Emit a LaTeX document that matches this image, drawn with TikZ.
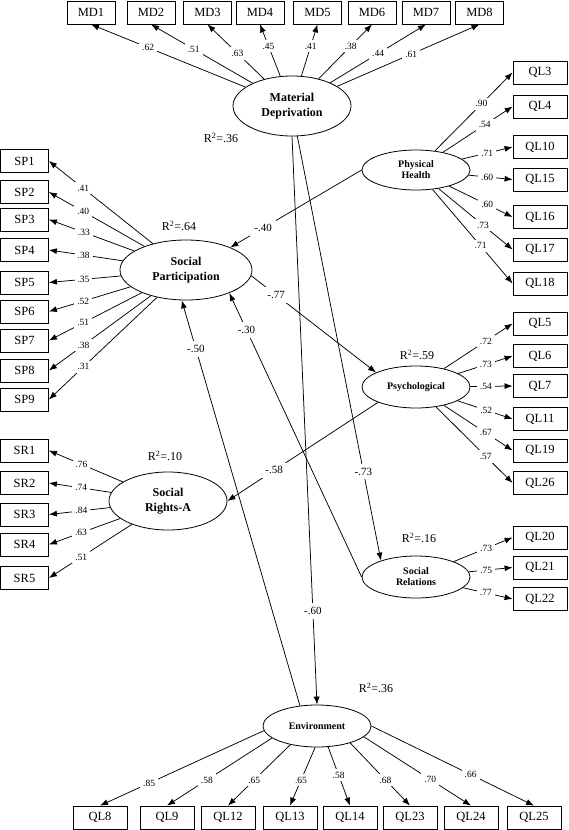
\documentclass[tikz,border=0pt]{standalone}
\usepackage{fontspec}
\setmainfont{Liberation Serif}
\usetikzlibrary{shapes.geometric,arrows.meta}
\begin{document}
\begin{tikzpicture}[x=1pt,y=-1pt,every node/.style={align=center},
	ind/.style={draw,line width=.8pt,minimum width=48pt,minimum height=23pt,inner sep=0pt,font=\fontsize{12.5}{14}\selectfont},
	indw/.style={ind,minimum width=54pt},
	latent/.style={draw,ellipse,line width=.8pt,inner sep=0pt,font=\fontsize{12}{14.5}\selectfont\bfseries},
	latsmall/.style={latent,minimum width=108pt,minimum height=42pt,font=\fontsize{10}{11}\selectfont\bfseries},
	ld/.style={fill=white,inner sep=3pt,font=\fontsize{9.5}{11}\selectfont},
	coef/.style={fill=white,inner sep=4pt,font=\fontsize{11}{13}\selectfont},
	rsq/.style={font=\fontsize{12}{14}\selectfont},
	load/.style={-{Latex[length=8pt,width=6pt]},line width=.75pt}]
		\useasboundingbox (0,0) rectangle (568,830);
		% latent variables
		\node[latent,minimum width=118pt,minimum height=60pt] (md) at (292,106) {Material\\Deprivation};
		\node[latent,minimum width=132pt,minimum height=60pt] (sp) at (186,270) {Social\\Participation};
		\node[latent,minimum width=118pt,minimum height=58pt] (sra) at (168,501) {Social\\Rights-A};
		\node[latsmall,minimum height=40pt] (ph) at (416,170) {Physical\\Health};
		\node[latsmall] (psy) at (416,387) {Psychological};
		\node[latsmall] (soc) at (416,577) {Social\\Relations};
		\node[latsmall] (env) at (317,726) {Environment};
		% explained variance
		\node[rsq] (r2md) at (221,138) {R\textsuperscript{2}=.36};
		\node[rsq] (r2sp) at (179,226) {R\textsuperscript{2}=.64};
		\node[rsq] (r2sra) at (165,456) {R\textsuperscript{2}=.10};
		\node[rsq] (r2psy) at (417,355) {R\textsuperscript{2}=.59};
		\node[rsq] (r2soc) at (419,538) {R\textsuperscript{2}=.16};
		\node[rsq] (r2env) at (376,688) {R\textsuperscript{2}=.36};
		% indicators, top row
		\node[ind] (md1) at (91,12.5) {MD1};
		\node[ind] (md2) at (151,12.5) {MD2};
		\node[ind] (md3) at (207.5,12.5) {MD3};
		\node[ind] (md4) at (260,12.5) {MD4};
		\node[ind] (md5) at (317.5,12.5) {MD5};
		\node[ind] (md6) at (372,12.5) {MD6};
		\node[ind] (md7) at (426,12.5) {MD7};
		\node[ind] (md8) at (479.5,12.5) {MD8};
		% indicators, left column
		\node[ind] (sp1) at (24.5,161) {SP1};
		\node[ind] (sp2) at (24.5,192) {SP2};
		\node[ind] (sp3) at (24.5,219.5) {SP3};
		\node[ind] (sp4) at (24.5,250) {SP4};
		\node[ind] (sp5) at (24.5,282.5) {SP5};
		\node[ind] (sp6) at (24.5,311.5) {SP6};
		\node[ind] (sp7) at (24.5,340.5) {SP7};
		\node[ind] (sp8) at (24.5,370.5) {SP8};
		\node[ind] (sp9) at (24.5,399.5) {SP9};
		\node[ind] (sr1) at (24.5,450.5) {SR1};
		\node[ind] (sr2) at (24.5,483) {SR2};
		\node[ind] (sr3) at (24.5,514.5) {SR3};
		\node[ind] (sr4) at (24.5,544.5) {SR4};
		\node[ind] (sr5) at (24.5,578) {SR5};
		% indicators, right column
		\node[indw] (ql3) at (540,72.5) {QL3};
		\node[indw] (ql4) at (540,106.5) {QL4};
		\node[indw] (ql10) at (540,147) {QL10};
		\node[indw] (ql15) at (540,179.5) {QL15};
		\node[indw] (ql16) at (540,217) {QL16};
		\node[indw] (ql17) at (540,249.5) {QL17};
		\node[indw] (ql18) at (540,283.5) {QL18};
		\node[indw] (ql5) at (540,323.5) {QL5};
		\node[indw] (ql6) at (540,356) {QL6};
		\node[indw] (ql7) at (540,386) {QL7};
		\node[indw] (ql11) at (540,419) {QL11};
		\node[indw] (ql19) at (540,450.5) {QL19};
		\node[indw] (ql26) at (540,483) {QL26};
		\node[indw] (ql20) at (540,537.5) {QL20};
		\node[indw] (ql21) at (540,567.5) {QL21};
		\node[indw] (ql22) at (540,599) {QL22};
		% indicators, bottom row
		\node[indw] (ql8) at (100,817.5) {QL8};
		\node[indw] (ql9) at (167,817.5) {QL9};
		\node[indw] (ql12) at (228,817.5) {QL12};
		\node[indw] (ql13) at (290,817.5) {QL13};
		\node[indw] (ql14) at (350,817.5) {QL14};
		\node[indw] (ql23) at (410,817.5) {QL23};
		\node[indw] (ql24) at (471,817.5) {QL24};
		\node[indw] (ql25) at (534,817.5) {QL25};
		% loadings
		\draw[load] (md) -- node[ld,pos=.63]{.62} (md1.south);
		\draw[load] (md) -- node[ld,pos=.58]{.51} (md2.south);
		\draw[load] (md) -- node[ld,pos=.47]{.63} (md3.south);
		\draw[load] (md) -- node[ld,pos=.58]{.45} (md4.south);
		\draw[load] (md) -- node[ld,pos=.58]{.41} (md5.south);
		\draw[load] (md) -- node[ld,pos=.6]{.38} (md6.south);
		\draw[load] (md) -- node[ld,pos=.5]{.44} (md7.south);
		\draw[load] (md) -- node[ld,pos=.52]{.61} (md8.south);
		\draw[load] (sp) -- node[ld,pos=.67]{.41} (sp1.east);
		\draw[load] (sp) -- node[ld,pos=.64]{.40} (sp2.east);
		\draw[load] (sp) -- node[ld,pos=.59]{.33} (sp3.east);
		\draw[load] (sp) -- node[ld,pos=.53]{.38} (sp4.east);
		\draw[load] (sp) -- node[ld,pos=.52]{.35} (sp5.east);
		\draw[load] (sp) -- node[ld,pos=.58]{.52} (sp6.east);
		\draw[load] (sp) -- node[ld,pos=.63]{.51} (sp7.east);
		\draw[load] (sp) -- node[ld,pos=.66]{.38} (sp8.east);
		\draw[load] (sp) -- node[ld,pos=.68]{.31} (sp9.east);
		\draw[load] (sra) -- node[ld,pos=.56]{.76} (sr1.east);
		\draw[load] (sra) -- node[ld,pos=.48]{.74} (sr2.east);
		\draw[load] (sra) -- node[ld,pos=.47]{.84} (sr3.east);
		\draw[load] (sra) -- node[ld,pos=.55]{.63} (sr4.east);
		\draw[load] (sra) -- node[ld,pos=.61]{.51} (sr5.east);
		\draw[load] (ph) -- node[ld,pos=.6]{.90} (ql3.west);
		\draw[load] (ph) -- node[ld,pos=.6]{.54} (ql4.west);
		\draw[load] (ph) -- node[ld,pos=.5]{.71} (ql10.west);
		\draw[load] (ph) -- node[ld,pos=.42]{.60} (ql15.west);
		\draw[load] (ph) -- node[ld,pos=.6]{.60} (ql16.west);
		\draw[load] (ph) -- node[ld,pos=.6]{.73} (ql17.west);
		\draw[load] (ph) -- node[ld,pos=.6]{.71} (ql18.west);
		\draw[load] (psy) -- node[ld,pos=.61]{.72} (ql5.west);
		\draw[load] (psy) -- node[ld,pos=.51]{.73} (ql6.west);
		\draw[load] (psy) -- node[ld,pos=.37]{.54} (ql7.west);
		\draw[load] (psy) -- node[ld,pos=.52]{.52} (ql11.west);
		\draw[load] (psy) -- node[ld,pos=.61]{.67} (ql19.west);
		\draw[load] (psy) -- node[ld,pos=.65]{.57} (ql26.west);
		\draw[load] (soc) -- node[ld,pos=.55]{.73} (ql20.west);
		\draw[load] (soc) -- node[ld,pos=.4]{.75} (ql21.west);
		\draw[load] (soc) -- node[ld,pos=.46]{.77} (ql22.west);
		\draw[load] (env.185) -- node[ld,pos=.7]{.85} (ql8.north);
		\draw[load] (env.195) -- node[ld,pos=.62]{.58} (ql9.north);
		\draw[load] (env.215) -- node[ld,pos=.58]{.65} (ql12.north);
		\draw[load] (env.265) -- node[ld,pos=.56]{.65} (ql13.north);
		\draw[load] (env.298) -- node[ld,pos=.48]{.58} (ql14.north);
		\draw[load] (env.333) -- node[ld,pos=.59]{.68} (ql23.north);
		\draw[load] (env.347) -- node[ld,pos=.62]{.70} (ql24.north);
		\draw[load] (env.0) -- node[ld,pos=.61]{.66} (ql25.north);
		% structural paths
		\draw[load] (ph.west) -- node[coef,pos=.75]{-.40} (sp.27);
		\draw[load] (sp.355) -- node[coef,pos=.2]{-.77} (psy.160);
		\draw[load] (soc.west) -- node[coef,pos=.87]{-.30} (sp.332);
		\draw[load] (env.130) -- node[coef,pos=.88]{-.50} (sp.262);
		\draw[load] (psy.202) -- node[coef,pos=.69]{-.58} (sra.east);
		\draw[load] (md.280) -- node[coef,pos=.79]{-.73} (soc.155);
		\draw[load] (md.south) -- node[coef,pos=.835]{-.60} (env.north);
\end{tikzpicture}
\end{document}
